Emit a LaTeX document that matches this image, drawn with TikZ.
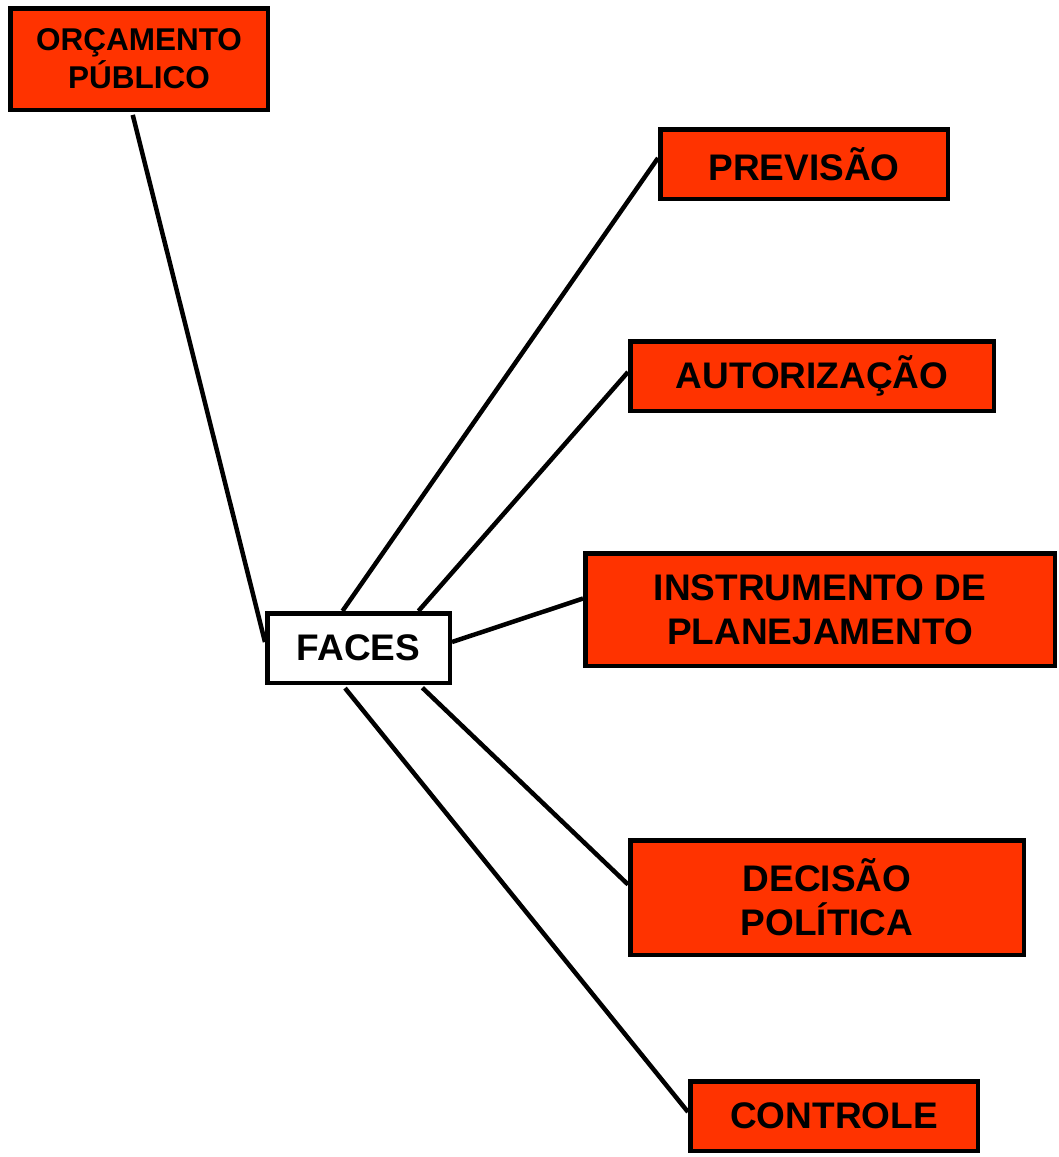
\documentclass[tikz,border=0pt]{standalone}
\usepackage{fontspec}
\setmainfont{Liberation Sans}
\usetikzlibrary{positioning}
\definecolor{boxred}{RGB}{255,51,0}
\tikzstyle{box} = [rectangle, minimum width=287.5pt, minimum height=69.5pt, text centered, align=center, draw=black, line width=4.5pt, fill=boxred, inner sep=0pt, font=\fontsize{37}{44}\selectfont\bfseries]
\tikzstyle{facebox} = [box, fill=white]
\tikzstyle{line} = [line width=4.5pt]

\begin{document}
\begin{tikzpicture}[x=1pt, y=-1pt]
\useasboundingbox (0,0) rectangle (1058,1157);

% Center
\node (faces) [facebox, minimum width=182.5pt] at (358.5,648) {FACES};

% Title
\node (orcamento) [box, minimum width=257.5pt, minimum height=101.5pt, font=\fontsize{31.5}{38}\selectfont\bfseries] at (139,59) {ORÇAMENTO\\PÚBLICO};

% Faces
\node (previsao) [box] at (804,164) {PREVISÃO};
\node (autorizacao) [box, minimum width=363.5pt] at (812,376) {AUTORIZAÇÃO};
\node (instrumento) [box, minimum width=469.5pt, minimum height=112.5pt] at (820,609.5) {INSTRUMENTO DE\\PLANEJAMENTO};
\node (decisao) [box, minimum width=393.5pt, minimum height=114.5pt] at (827,897.5) {DECISÃO\\POLÍTICA};
\node (controle) [box] at (834,1116) {CONTROLE};

% Lines
\draw [line, shorten <=3pt] ([xshift=-7pt]orcamento.south) -- ([yshift=6pt]faces.west);
\draw [line] ([xshift=-16pt]faces.north) -- ([yshift=6pt]previsao.west);
\draw [line] ([xshift=60pt]faces.north) -- ([yshift=4pt]autorizacao.west);
\draw [line] ([yshift=6pt]faces.east) -- ([yshift=11pt]instrumento.west);
\draw [line, shorten <=4pt] ([xshift=61pt]faces.south) -- ([yshift=13pt]decisao.west);
\draw [line, shorten <=4pt] ([xshift=-16pt]faces.south) -- ([yshift=4pt]controle.west);

\end{tikzpicture}
\end{document}
